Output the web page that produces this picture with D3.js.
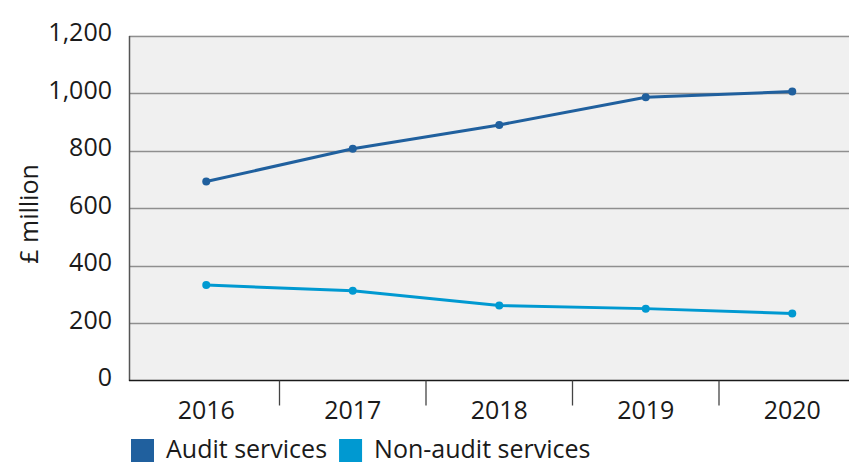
<!DOCTYPE html>
<html>
<head>
<meta charset="utf-8">
<script src="https://cdn.jsdelivr.net/npm/d3@7"></script>
<style>
  html, body { margin: 0; padding: 0; background: #ffffff; }
  svg { display: block; font-family: "Open Sans", "Noto Sans", sans-serif; }
</style>
</head>
<body>
<svg id="chart" width="849" height="465"></svg>
<script>
// Fees earned, £ million
const years = ["2016", "2017", "2018", "2019", "2020"];
const auditServices = [692, 806, 889, 985, 1005];
const nonAuditServices = [332, 312, 261, 250, 233];
const yTicks = [0, 200, 400, 600, 800, 1000, 1200];
const seriesNames = ["Audit services", "Non-audit services"];
const seriesColors = ["#20609e", "#0099d1"];

const svg = d3.select("#chart");
const margin = { left: 129, right: 0, top: 35.5, bottom: 84.5 };
const W = 849, H = 465;
const plotW = W - margin.left - margin.right;
const plotH = H - margin.top - margin.bottom;
const fontSize = 25;

const x = d3.scaleBand().domain(years).range([margin.left + 4, margin.left + 4 + 146.5 * 5]).padding(0);
const y = d3.scaleLinear().domain([0, 1200]).range([margin.top + plotH, margin.top]);

// plot background
svg.append("rect")
  .attr("x", margin.left).attr("y", margin.top)
  .attr("width", plotW).attr("height", plotH)
  .attr("fill", "#f0f0f0");

// horizontal gridlines
svg.append("g")
  .selectAll("line")
  .data(yTicks.filter(d => d > 0))
  .join("line")
  .attr("x1", margin.left).attr("x2", W)
  .attr("y1", d => Math.round(y(d)) + 0.5).attr("y2", d => Math.round(y(d)) + 0.5)
  .attr("stroke", "#8f8f8f").attr("stroke-width", 1.3);

// y axis
const yAxis = svg.append("g")
  .attr("transform", `translate(${margin.left},0)`)
  .call(d3.axisLeft(y).tickValues(yTicks).tickSize(0).tickPadding(17).tickFormat(d3.format(",")));
yAxis.select(".domain").attr("stroke", "#555555").attr("stroke-width", 1.5);
yAxis.selectAll("text")
  .attr("font-size", fontSize).attr("fill", "#1a1a1a").attr("dy", "0.2em")
  .attr("font-family", "'Open Sans', sans-serif");

// x axis: category boundaries as tick marks
const xAxisY = margin.top + plotH;
svg.append("line")
  .attr("x1", margin.left).attr("x2", W)
  .attr("y1", xAxisY).attr("y2", xAxisY)
  .attr("stroke", "#1a1a1a").attr("stroke-width", 1.5);
svg.append("g")
  .selectAll("line")
  .data(years.slice(1))
  .join("line")
  .attr("x1", d => x(d)).attr("x2", d => x(d))
  .attr("y1", xAxisY).attr("y2", xAxisY + 25)
  .attr("stroke", "#444444").attr("stroke-width", 1.3);
svg.append("g")
  .selectAll("text")
  .data(years)
  .join("text")
  .attr("x", d => x(d) + x.bandwidth() / 2)
  .attr("y", xAxisY + 38)
  .attr("text-anchor", "middle")
  .attr("font-size", fontSize).attr("fill", "#1a1a1a")
  .text(d => d);

// y axis title
svg.append("text")
  .attr("transform", `translate(38,214) rotate(-90)`)
  .attr("text-anchor", "middle")
  .attr("font-size", fontSize).attr("fill", "#1a1a1a")
  .text("£ million");

// lines and markers
const series = [auditServices, nonAuditServices];
const line = d3.line()
  .x((d, i) => x(years[i]) + x.bandwidth() / 2)
  .y(d => y(d));
series.forEach((vals, si) => {
  svg.append("path")
    .datum(vals)
    .attr("d", line)
    .attr("fill", "none")
    .attr("stroke", seriesColors[si])
    .attr("stroke-width", 3);
  svg.append("g")
    .selectAll("circle")
    .data(vals)
    .join("circle")
    .attr("cx", (d, i) => x(years[i]) + x.bandwidth() / 2)
    .attr("cy", d => y(d))
    .attr("r", 4)
    .attr("fill", seriesColors[si]);
});

// legend
const legend = svg.append("g").attr("transform", "translate(131,439)");
let lx = 0;
seriesNames.forEach((name, i) => {
  const g = legend.append("g").attr("transform", `translate(${lx},0)`);
  g.append("rect").attr("width", 23).attr("height", 23).attr("fill", seriesColors[i]);
  const t = g.append("text")
    .attr("x", 35).attr("y", 19)
    .attr("font-size", fontSize).attr("fill", "#1a1a1a")
    .text(name);
  lx += 35 + t.node().getComputedTextLength() + 12;
});
</script>
</body>
</html>
